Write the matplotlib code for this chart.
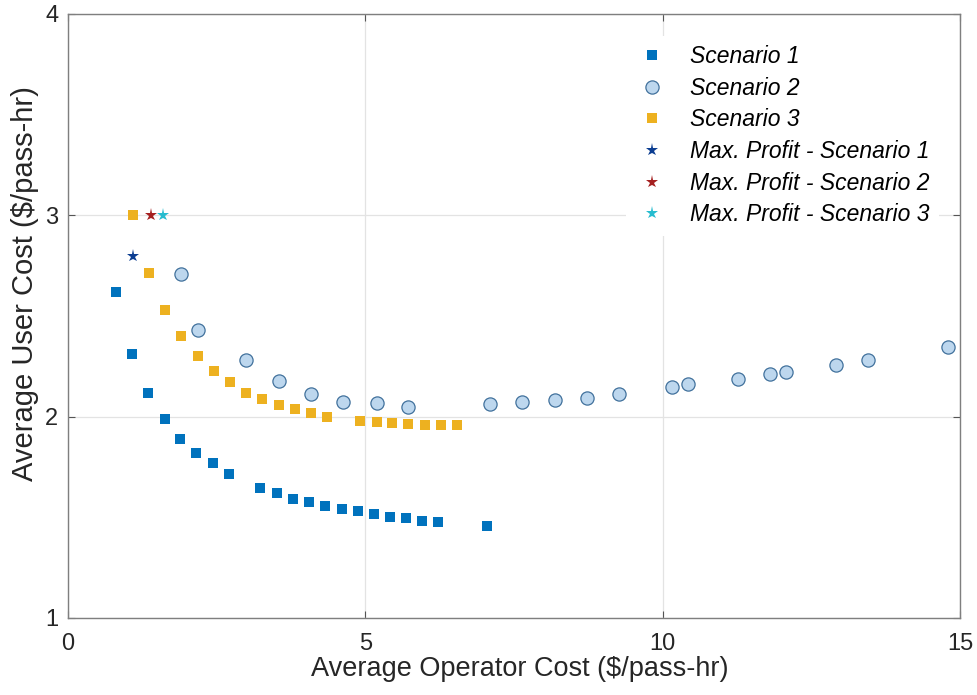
import matplotlib.pyplot as plt

plt.rcParams['font.family'] = ['Liberation Sans', 'DejaVu Sans']

# Scenario 1 (blue squares)
s1_x = [0.81, 1.08, 1.35, 1.625, 1.89, 2.16, 2.43, 2.71, 3.235, 3.52, 3.79, 4.06,
        4.33, 4.60, 4.875, 5.145, 5.415, 5.685, 5.96, 6.23, 7.04]
s1_y = [2.62, 2.31, 2.12, 1.987, 1.891, 1.818, 1.768, 1.717, 1.644, 1.621, 1.593, 1.575,
        1.558, 1.542, 1.529, 1.517, 1.502, 1.497, 1.484, 1.477, 1.459]

# Scenario 2 (light blue circles)
s2_x = [1.905, 2.18, 2.995, 3.54, 4.09, 4.63, 5.19, 5.725, 7.09, 7.635, 8.185, 8.73,
        9.27, 10.16, 10.43, 11.26, 11.80, 12.07, 12.91, 13.455, 14.80]
s2_y = [2.71, 2.43, 2.28, 2.177, 2.113, 2.071, 2.068, 2.05, 2.065, 2.071, 2.081, 2.094,
        2.113, 2.147, 2.164, 2.187, 2.212, 2.22, 2.258, 2.279, 2.347]

# Scenario 3 (orange squares)
s3_x = [1.09, 1.36, 1.635, 1.905, 2.18, 2.45, 2.725, 2.995, 3.27, 3.54, 3.815, 4.09,
        4.36, 4.905, 5.19, 5.455, 5.725, 6.0, 6.27, 6.545]
s3_y = [3.0, 2.716, 2.53, 2.40, 2.30, 2.225, 2.17, 2.12, 2.09, 2.058, 2.036, 2.018,
        2.00, 1.98, 1.975, 1.969, 1.962, 1.96, 1.96, 1.96]

# Max profit points
mp_x = [1.09, 1.39, 1.60]
mp_y = [2.80, 3.0, 3.0]
mp_colors = ['#0B3D91', '#A52020', '#26BCCF']
mp_labels = ['Max. Profit - Scenario 1', 'Max. Profit - Scenario 2', 'Max. Profit - Scenario 3']

fig = plt.figure(figsize=(9.77, 6.95), dpi=100)
ax = fig.add_axes([68 / 977, 1 - 618 / 695, 892 / 977, 604 / 695])

ax.plot(s1_x, s1_y, 's', color='#0072BD', markersize=7.5, markeredgewidth=0,
        label='Scenario 1', zorder=3)
ax.plot(s2_x, s2_y, 'o', markerfacecolor='#BDD7EE', markeredgecolor='#41719C',
        markeredgewidth=0.9, markersize=9.5, label='Scenario 2', zorder=3)
ax.plot(s3_x, s3_y, 's', color='#EDB120', markersize=7.5, markeredgewidth=0,
        label='Scenario 3', zorder=3)
for x, y, c, lab in zip(mp_x, mp_y, mp_colors, mp_labels):
    ax.plot([x], [y], '*', color=c, markersize=9.5, markeredgewidth=0, label=lab, zorder=4)

ax.set_xlim(0, 15)
ax.set_ylim(1, 4)
ax.set_xticks([0, 5, 10, 15])
ax.set_yticks([1, 2, 3, 4])
ax.grid(True, color='#E3E3E3', linewidth=0.9)
ax.set_axisbelow(True)

for sp in ax.spines.values():
    sp.set_color('#7F7F7F')
    sp.set_linewidth(1.0)
ax.tick_params(direction='in', length=5, width=0.8, color='#555555',
               labelsize=17, labelcolor='#262626', top=True, right=True)
ax.tick_params(axis='x', pad=11)
ax.tick_params(axis='y', pad=7)

ax.set_xlabel('Average Operator Cost ($/pass-hr)', fontsize=19.5, color='#262626')
ax.set_ylabel('Average User Cost ($/pass-hr)', fontsize=21, color='#262626')
ax.xaxis.set_label_coords(0.507, -0.063)
ax.yaxis.set_label_coords(-0.032, 0.553)

leg = ax.legend(loc='upper right', frameon=True, framealpha=1,
                edgecolor='white', prop={'style': 'italic', 'size': 16.5},
                handlelength=1.5, handletextpad=0.9, labelspacing=0.38,
                borderaxespad=0, bbox_to_anchor=(0.976, 0.964))
leg.get_frame().set_linewidth(0)

fig.savefig('out.png', dpi=100)
